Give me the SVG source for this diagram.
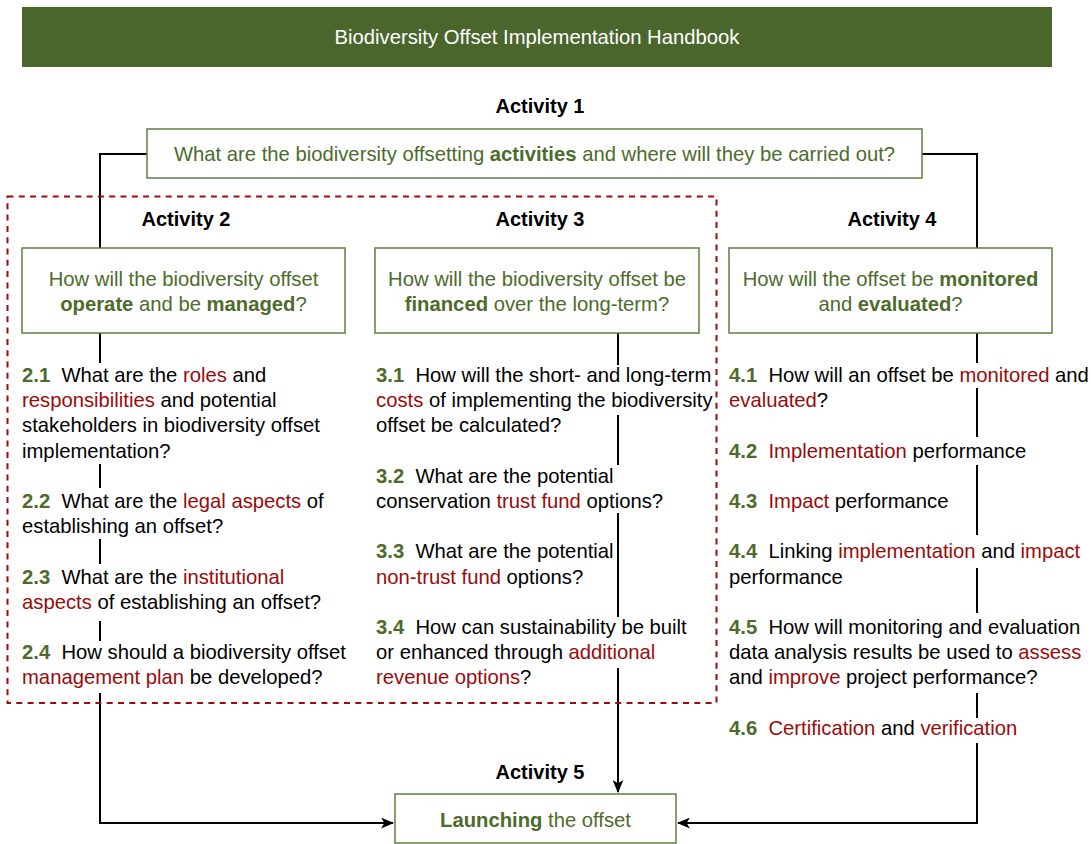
<svg xmlns="http://www.w3.org/2000/svg" width="1091" height="844" viewBox="0 0 1091 844">
<defs>
<marker id="arr" viewBox="0 0 12 10" refX="11" refY="5" markerWidth="13" markerHeight="11" markerUnits="userSpaceOnUse" orient="auto">
<path d="M0,0 L12,5 L0,10 L3,5 z" fill="#000"/>
</marker>
<style>
text{font-family:"Liberation Sans",Arial,sans-serif;font-size:20.25px;fill:#000}
.box{fill:#fff;stroke:#5f7f3f;stroke-width:1.5}
.bt{fill:#4d6b2b;text-anchor:middle}
.b{font-weight:bold}
.act{font-weight:bold;text-anchor:middle;font-size:20px}
.g{fill:#4d6b2b;font-weight:bold}
.r{fill:#9b0a0a}
.conn{fill:none;stroke:#000;stroke-width:2}
</style>
</defs>
<rect width="1091" height="844" fill="#fff"/>

<g id="header">
<rect x="22" y="7" width="1030" height="60" fill="#4a662d"/>
<text x="537" y="44" text-anchor="middle" style="fill:#fff">Biodiversity Offset Implementation Handbook</text>
</g>

<g id="connectors">
<path class="conn" d="M147,154 H100 V248"/>
<path class="conn" d="M922,154 H977 V248"/>
<path class="conn" d="M100,333 V363 M100,464 V488 M100,539 V564 M100,621 V641 M100,693 V823 H393" marker-end="url(#arr)"/>
<path class="conn" d="M618,333 V365 M618,415 V465 M618,513 V617 M618,668 V792" marker-end="url(#arr)"/>
<path class="conn" d="M977,333 V363 M977,388 V437 M977,465 V535 M977,568 V613 M977,693 V718 M977,743 V823 H678" marker-end="url(#arr)"/>
</g>

<g id="group-activities-2-3">
<rect x="7.5" y="196.5" width="709" height="506.5" fill="none" stroke="#9e0b0b" stroke-width="2" stroke-dasharray="6 5.3"/>
</g>

<g id="activity1">
<text class="act" x="540" y="113">Activity 1</text>
<rect class="box" x="147" y="129" width="775" height="49"/>
<text class="bt" x="534.5" y="161">What are the biodiversity offsetting <tspan class="b">activities</tspan> and where will they be carried out?</text>
</g>

<g id="activity2">
<text class="act" x="186" y="226">Activity 2</text>
<rect class="box" x="22" y="248" width="323" height="85"/>
<text class="bt" x="183.5" y="286">How will the biodiversity offset</text>
<text class="bt" x="183.5" y="311"><tspan class="b">operate</tspan> and be <tspan class="b">managed</tspan>?</text>
</g>

<g id="activity3">
<text class="act" x="540" y="226">Activity 3</text>
<rect class="box" x="375" y="248" width="324" height="85"/>
<text class="bt" x="537" y="286">How will the biodiversity offset be</text>
<text class="bt" x="537" y="311"><tspan class="b">financed</tspan> over the long-term?</text>
</g>

<g id="activity4">
<text class="act" x="892" y="226">Activity 4</text>
<rect class="box" x="729" y="248" width="323" height="85"/>
<text class="bt" x="890.5" y="286">How will the offset be <tspan class="b">monitored</tspan></text>
<text class="bt" x="890.5" y="311">and <tspan class="b">evaluated</tspan>?</text>
</g>

<g id="activity5">
<text class="act" x="540" y="779">Activity 5</text>
<rect class="box" x="395" y="794" width="281" height="49"/>
<text class="bt" x="535.5" y="827"><tspan class="b">Launching</tspan> the offset</text>
</g>

<g id="items-2">
<text x="22" y="382"><tspan class="g">2.1</tspan>&#160;&#160;What are the <tspan class="r">roles</tspan> and</text>
<text x="22" y="407.2"><tspan class="r">responsibilities</tspan> and potential</text>
<text x="22" y="432.4">stakeholders in biodiversity offset</text>
<text x="22" y="457.6">implementation?</text>
<text x="22" y="508"><tspan class="g">2.2</tspan>&#160;&#160;What are the <tspan class="r">legal aspects</tspan> of</text>
<text x="22" y="533.2">establishing an offset?</text>
<text x="22" y="583.6"><tspan class="g">2.3</tspan>&#160;&#160;What are the <tspan class="r">institutional</tspan></text>
<text x="22" y="608.8"><tspan class="r">aspects</tspan> of establishing an offset?</text>
<text x="22" y="659.2"><tspan class="g">2.4</tspan>&#160;&#160;How should a biodiversity offset</text>
<text x="22" y="684.4"><tspan class="r">management plan</tspan> be developed?</text>
</g>

<g id="items-3">
<text x="376" y="382"><tspan class="g">3.1</tspan>&#160;&#160;How will the short- and long-term</text>
<text x="376" y="407.2"><tspan class="r">costs</tspan> of implementing the biodiversity</text>
<text x="376" y="432.4">offset be calculated?</text>
<text x="376" y="482.8"><tspan class="g">3.2</tspan>&#160;&#160;What are the potential</text>
<text x="376" y="508">conservation <tspan class="r">trust fund</tspan> options?</text>
<text x="376" y="558.4"><tspan class="g">3.3</tspan>&#160;&#160;What are the potential</text>
<text x="376" y="583.6"><tspan class="r">non-trust fund</tspan> options?</text>
<text x="376" y="634"><tspan class="g">3.4</tspan>&#160;&#160;How can sustainability be built</text>
<text x="376" y="659.2">or enhanced through <tspan class="r">additional</tspan></text>
<text x="376" y="684.4"><tspan class="r">revenue options</tspan>?</text>
</g>

<g id="items-4">
<text x="729" y="382"><tspan class="g">4.1</tspan>&#160;&#160;How will an offset be <tspan class="r">monitored</tspan> and</text>
<text x="729" y="407.2"><tspan class="r">evaluated</tspan>?</text>
<text x="729" y="457.6"><tspan class="g">4.2</tspan>&#160;&#160;<tspan class="r">Implementation</tspan> performance</text>
<text x="729" y="508"><tspan class="g">4.3</tspan>&#160;&#160;<tspan class="r">Impact</tspan> performance</text>
<text x="729" y="558.4"><tspan class="g">4.4</tspan>&#160;&#160;Linking <tspan class="r">implementation</tspan> and <tspan class="r">impact</tspan></text>
<text x="729" y="583.6">performance</text>
<text x="729" y="634"><tspan class="g">4.5</tspan>&#160;&#160;How will monitoring and evaluation</text>
<text x="729" y="659.2">data analysis results be used to <tspan class="r">assess</tspan></text>
<text x="729" y="684.4">and <tspan class="r">improve</tspan> project performance?</text>
<text x="729" y="734.8"><tspan class="g">4.6</tspan>&#160;&#160;<tspan class="r">Certification</tspan> and <tspan class="r">verification</tspan></text>
</g>
</svg>
